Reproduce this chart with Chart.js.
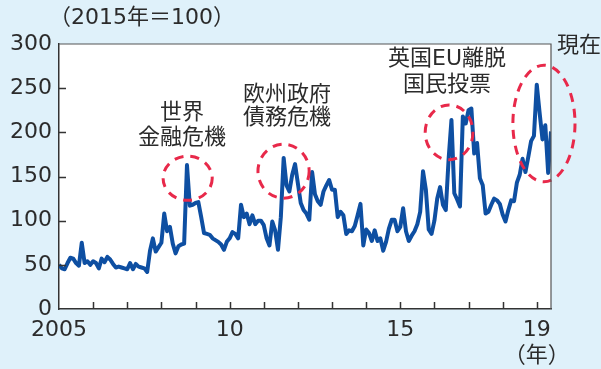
<!DOCTYPE html>
<html lang="ja">
<head>
<meta charset="UTF-8">
<title>Index 2005-2019</title>
<script src="https://cdn.jsdelivr.net/npm/chart.js"></script>
<style>
  html, body { margin: 0; padding: 0; background: #dff1fa; }
  canvas { display: block; }
</style>
</head>
<body>
<canvas id="chart" width="601" height="369"></canvas>
<script>
// monthly index (2015 = 100), Jan 2005 - Jun 2019
const startYear = 2005;
const v2005 = [50, 46, 45, 52, 58, 57, 52, 49, 75, 52, 54, 50];
const v2006 = [54, 52, 46, 57, 53, 59, 56, 51, 47, 48, 47, 46];
const v2007 = [45, 52, 45, 51, 48, 47, 46, 42, 66, 80, 65, 70];
const v2008 = [75, 108, 88, 93, 74, 63, 71, 73, 74, 163, 117, 118];
const v2009 = [120, 121, 104, 86, 85, 84, 80, 78, 76, 73, 67, 76];
const v2010 = [80, 87, 85, 80, 118, 104, 108, 96, 106, 96, 100, 100];
const v2011 = [95, 80, 72, 99, 89, 67, 104, 171, 140, 133, 152, 164];
const v2012 = [142, 120, 112, 108, 101, 155, 130, 122, 118, 133, 140, 146];
const v2013 = [135, 135, 104, 110, 106, 85, 89, 88, 94, 106, 119, 72];
const v2014 = [90, 86, 77, 89, 77, 80, 66, 76, 91, 101, 101, 88];
const v2015 = [93, 114, 88, 77, 83, 88, 96, 110, 156, 135, 90, 85];
const v2016 = [100, 125, 138, 118, 112, 170, 214, 131, 124, 116, 218, 210];
const v2017 = [225, 227, 176, 188, 148, 140, 108, 110, 118, 125, 123, 119];
const v2018 = [107, 99, 112, 123, 122, 143, 152, 170, 155, 172, 190, 196];
const v2019 = [254, 222, 192, 208, 154, 201];

const yTicks = [0, 50, 100, 150, 200, 250, 300];
const xTickYears = [2005, 2006, 2007, 2008, 2009, 2010, 2011, 2012,
  2013, 2014, 2015, 2016, 2017, 2018, 2019];
const xLabels = { 2005: '2005', 2010: '10', 2015: '15', 2019: ['19', '（年）'] };

const values = [].concat(v2005, v2006, v2007, v2008, v2009, v2010, v2011,
  v2012, v2013, v2014, v2015, v2016, v2017, v2018, v2019);
const points = values.map((v, i) => ({ x: startYear + i / 12, y: v }));
const lastX = startYear + (values.length - 1) / 12;

const JP = '"DejaVu Sans", "Noto Sans CJK JP", sans-serif';
const NUM = '"DejaVu Sans", "Noto Sans CJK JP", sans-serif';

// dashed circles, in data units (year, index)
const rings = [
  { x: 2008.77, y: 148, rx: 0.72, ry: 25 },
  { x: 2011.58, y: 156, rx: 0.75, ry: 30.5 },
  { x: 2016.43, y: 200, rx: 0.70, ry: 31 },
  { x: 2019.21, y: 210, rx: 0.91, ry: 66 }
];

const notes = [
  { x: 182, y: [113, 138], lines: ['世界', '金融危機'], align: 'center' },
  { x: 287, y: [95, 118], lines: ['欧州政府', '債務危機'], align: 'center' },
  { x: 447, y: [59, 85], lines: ['英国EU離脱', '国民投票'], align: 'center' },
  { x: 557, y: [46], lines: ['現在'], align: 'left' },
  { x: 49, y: [18], lines: ['（2015年＝100）'], align: 'left' }
];

const decor = {
  id: 'decor',
  beforeDraw(chart) {
    const { ctx, chartArea: a } = chart;
    ctx.save();
    ctx.fillStyle = '#dff1fa';
    ctx.fillRect(0, 0, chart.width, chart.height);
    ctx.fillStyle = '#ffffff';
    ctx.fillRect(a.left, a.top, a.right - a.left, a.bottom - a.top);
    ctx.restore();
  },
  afterDatasetsDraw(chart) {
    const { ctx } = chart;
    const xs = chart.scales.x, ys = chart.scales.y;
    ctx.save();
    ctx.strokeStyle = '#e8294a';
    ctx.lineWidth = 3;
    ctx.setLineDash([9, 7]);
    rings.forEach(r => {
      const cx = xs.getPixelForValue(r.x), cy = ys.getPixelForValue(r.y);
      const rx = xs.getPixelForValue(r.x + r.rx) - cx;
      const ry = cy - ys.getPixelForValue(r.y + r.ry);
      ctx.beginPath();
      ctx.ellipse(cx, cy, rx, ry, 0, 0, Math.PI * 2);
      ctx.stroke();
    });
    ctx.restore();
  },
  afterDraw(chart) {
    const { ctx, chartArea: a } = chart;
    const xs = chart.scales.x, ys = chart.scales.y;
    ctx.save();
    // box
    ctx.strokeStyle = '#555';
    ctx.lineWidth = 1.2;
    ctx.beginPath();
    ctx.moveTo(a.left, a.top);
    ctx.lineTo(a.right, a.top);
    ctx.lineTo(a.right, a.bottom);
    ctx.stroke();
    // inner tick marks
    ctx.strokeStyle = '#333';
    ctx.lineWidth = 1.5;
    ctx.beginPath();
    xs.ticks.forEach(t => {
      if (t.value === startYear) return;
      const px = Math.round(xs.getPixelForValue(t.value)) + 0.5;
      ctx.moveTo(px, a.bottom);
      ctx.lineTo(px, a.bottom - 7);
    });
    ys.ticks.forEach(t => {
      if (t.value === 0 || t.value === 300) return;
      const py = Math.round(ys.getPixelForValue(t.value)) + 0.5;
      ctx.moveTo(a.left, py);
      ctx.lineTo(a.left + 7, py);
    });
    ctx.stroke();
    // notes
    ctx.fillStyle = '#2b2b2b';
    ctx.font = '22px ' + JP;
    ctx.textBaseline = 'middle';
    notes.forEach(n => {
      ctx.textAlign = n.align;
      n.lines.forEach((s, i) => ctx.fillText(s, n.x, n.y[i]));
    });
    ctx.restore();
  }
};

new Chart(document.getElementById('chart'), {
  type: 'line',
  data: {
    datasets: [{
      data: points,
      borderColor: '#0e4fa2',
      borderWidth: 4,
      borderJoinStyle: 'round',
      pointRadius: 0,
      tension: 0,
      fill: false
    }]
  },
  options: {
    responsive: false,
    animation: false,
    devicePixelRatio: 1,
    layout: { padding: { left: 0, top: 44, right: 50, bottom: 0 } },
    plugins: { legend: { display: false }, tooltip: { enabled: false } },
    scales: {
      x: {
        type: 'linear',
        min: startYear,
        max: lastX,
        afterFit(s) { s.height = 60; },
        afterBuildTicks(s) { s.ticks = xTickYears.map(v => ({ value: v })); },
        grid: { drawOnChartArea: false, drawTicks: false },
        border: { color: '#333', width: 1.5 },
        ticks: {
          autoSkip: false,
          maxRotation: 0,
          padding: 8,
          color: '#2b2b2b',
          font: { family: NUM, size: 22, lineHeight: 1.2 },
          callback: v => xLabels[v] || ''
        }
      },
      y: {
        min: 0,
        max: 300,
        afterFit(s) { s.width = 59; },
        afterBuildTicks(s) { s.ticks = yTicks.map(v => ({ value: v })); },
        grid: { drawOnChartArea: false, drawTicks: false },
        border: { color: '#333', width: 1.5 },
        ticks: {
          padding: 7,
          color: '#2b2b2b',
          font: { family: NUM, size: 22 }
        }
      }
    }
  },
  plugins: [decor]
});
</script>
</body>
</html>
